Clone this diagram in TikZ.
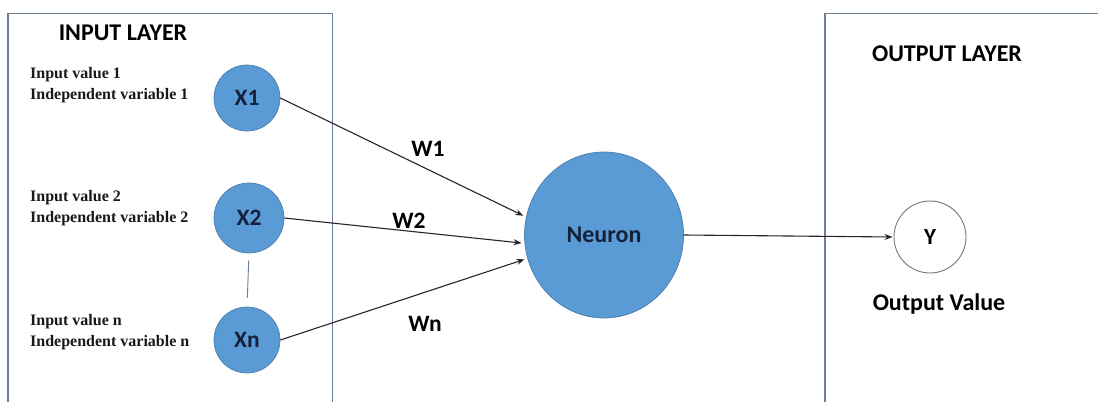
\documentclass[tikz,border=0pt]{standalone}
\usepackage{fontspec}
\setmainfont{Liberation Serif}
\newfontfamily\carlito{Carlito}
\usetikzlibrary{arrows.meta,shapes.geometric}
\definecolor{nodeblue}{HTML}{5B9BD5}
\definecolor{nodeedge}{HTML}{4A7EB0}
\definecolor{framegray}{HTML}{6E8194}
\definecolor{navytext}{HTML}{14213A}
\definecolor{ringgray}{HTML}{777777}
\begin{document}
\begin{tikzpicture}[x=1pt,y=-1pt,
  frame/.style={draw=framegray,line width=1.1pt},
  unit/.style={circle,fill=nodeblue,draw=nodeedge,line width=0.7pt,inner sep=0pt,
    font=\carlito\bfseries\fontsize{23.5}{26}\selectfont,text=navytext},
  heading/.style={font=\carlito\bfseries\fontsize{24}{28}\selectfont,text=black,inner sep=0pt},
  weight/.style={font=\carlito\bfseries\fontsize{23.5}{28}\selectfont,text=black,inner sep=0pt},
  desc/.style={font=\bfseries\fontsize{16}{20.5}\selectfont,align=left,anchor=west,inner sep=0pt,text=black!90},
  link/.style={draw=black!85,line width=1.1pt,-{Stealth[length=8pt,width=6pt]}}]
\useasboundingbox (0,0) rectangle (1098,402);
\fill[white] (0,0) rectangle (1098,402);

% layer frames (open at the bottom and right edge)
\draw[frame] (8,402) |- (332.5,13.5) -- (332.5,402);
\draw[frame] (825,402) |- (1098,13.5);

% headings
\node[heading] (inhead) at (123,32.5) {INPUT LAYER};
\node[heading] (outhead) at (947,54) {OUTPUT LAYER};

% input units
\node[unit,minimum size=66pt] (X1) at (247,98) {X1};
\node[unit,minimum size=70pt] (X2) at (249,218) {X2};
\node[unit,minimum size=66pt] (Xn) at (247,340) {Xn};

% input descriptions
\node[desc] (d1) at (30,85) {Input value 1\\Independent variable 1};
\node[desc] (d2) at (30,208) {Input value 2\\Independent variable 2};
\node[desc] (dn) at (30,332) {Input value n\\Independent variable n};

% ellipsis link between the second and last input
\draw[draw=framegray,line width=0.9pt,shorten <=7pt,shorten >=9pt] (X2.south) -- (Xn.north);

% neuron
\node[ellipse,fill=nodeblue,draw=nodeedge,line width=0.7pt,minimum width=159pt,minimum height=166pt,inner sep=0pt,
  font=\carlito\bfseries\fontsize{24}{28}\selectfont,text=navytext] (N) at (604,235) {Neuron};

% output unit
\node[circle,draw=ringgray,line width=0.9pt,fill=white,minimum size=72pt,inner sep=0pt,
  font=\carlito\bfseries\fontsize{23}{26}\selectfont] (Y) at (930,237) {Y};
\node[heading] (outval) at (939,304) {Output Value};

% weighted connections
\draw[link,shorten >=3pt] (X1.east) -- (N.167);
\draw[link,shorten >=3pt] (X2.east) -- (N.186);
\draw[link,shorten >=3pt] (Xn.east) -- (N.197);
\draw[link,shorten >=1pt] (N.east) -- (Y.west);

% weights
\node[weight] (w1) at (428,148.5) {W1};
\node[weight] (w2) at (409,220.5) {W2};
\node[weight] (wn) at (425,324) {Wn};
\end{tikzpicture}
\end{document}
